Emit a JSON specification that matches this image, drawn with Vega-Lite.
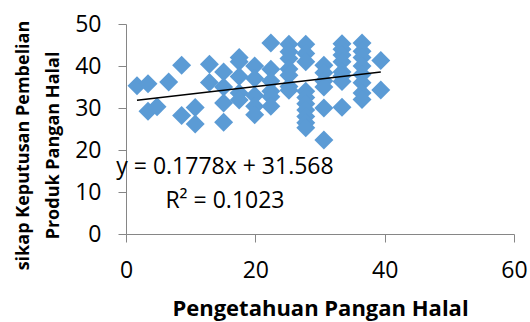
{
  "$schema": "https://vega.github.io/schema/vega-lite/v6.json",
  "width": 388,
  "height": 210,
  "autosize": {"type": "none"},
  "padding": {"left": 126, "top": 24, "right": 16, "bottom": 88},
  "background": "white",
  "config": {
    "view": {"stroke": null},
    "font": "Open Sans",
    "axis": {
      "grid": false,
      "domainColor": "#868686",
      "tickColor": "#868686",
      "tickSize": 8,
      "labelFlush": false,
      "labelFont": "Open Sans",
      "labelFontSize": 23,
      "labelColor": "#000000",
      "titleFont": "Open Sans",
      "titleColor": "#000000",
      "titleFontWeight": "bold"
    }
  },
  "datasets": {
    "pts": [
      {"x": 1.7, "y": 35.3},
      {"x": 3.4, "y": 35.8}, {"x": 3.4, "y": 29.2},
      {"x": 4.8, "y": 30.3},
      {"x": 6.6, "y": 36.2},
      {"x": 8.6, "y": 40.2}, {"x": 8.6, "y": 28.2},
      {"x": 10.7, "y": 30.1}, {"x": 10.7, "y": 26.2},
      {"x": 12.9, "y": 40.4}, {"x": 12.9, "y": 36.1},
      {"x": 15.1, "y": 38.6}, {"x": 15.1, "y": 35.0}, {"x": 15.1, "y": 31.2}, {"x": 15.1, "y": 26.6},
      {"x": 17.5, "y": 42.0}, {"x": 17.5, "y": 41.0}, {"x": 17.5, "y": 37.5}, {"x": 17.5, "y": 33.6}, {"x": 17.5, "y": 31.9},
      {"x": 19.9, "y": 40.0}, {"x": 19.9, "y": 37.0}, {"x": 19.9, "y": 33.0}, {"x": 19.9, "y": 30.4}, {"x": 19.9, "y": 28.4},
      {"x": 22.4, "y": 45.5}, {"x": 22.4, "y": 39.2}, {"x": 22.4, "y": 36.4}, {"x": 22.4, "y": 34.0}, {"x": 22.4, "y": 32.7}, {"x": 22.4, "y": 30.4},
      {"x": 25.2, "y": 45.2}, {"x": 25.2, "y": 43.4}, {"x": 25.2, "y": 41.8}, {"x": 25.2, "y": 39.3}, {"x": 25.2, "y": 37.8}, {"x": 25.2, "y": 35.1}, {"x": 25.2, "y": 34.2},
      {"x": 27.8, "y": 45.2}, {"x": 27.8, "y": 43.0}, {"x": 27.8, "y": 41.0}, {"x": 27.8, "y": 34.0}, {"x": 27.8, "y": 32.5}, {"x": 27.8, "y": 31.0}, {"x": 27.8, "y": 29.5}, {"x": 27.8, "y": 28.0}, {"x": 27.8, "y": 26.5}, {"x": 27.8, "y": 25.3},
      {"x": 30.6, "y": 40.2}, {"x": 30.6, "y": 38.4}, {"x": 30.6, "y": 36.4}, {"x": 30.6, "y": 35.0}, {"x": 30.6, "y": 30.0}, {"x": 30.6, "y": 22.4},
      {"x": 33.4, "y": 45.3}, {"x": 33.4, "y": 44.0}, {"x": 33.4, "y": 42.6}, {"x": 33.4, "y": 41.0}, {"x": 33.4, "y": 38.6}, {"x": 33.4, "y": 37.6}, {"x": 33.4, "y": 36.3}, {"x": 33.4, "y": 30.2},
      {"x": 36.5, "y": 45.5}, {"x": 36.5, "y": 43.5}, {"x": 36.5, "y": 42.0}, {"x": 36.5, "y": 40.0}, {"x": 36.5, "y": 38.0}, {"x": 36.5, "y": 36.0}, {"x": 36.5, "y": 33.6}, {"x": 36.5, "y": 32.0},
      {"x": 39.4, "y": 41.3}, {"x": 39.4, "y": 34.3}
    ],
    "trend": [
      {"x": 1.7, "y": 31.87},
      {"x": 39.4, "y": 38.57}
    ],
    "notes": [
      {"x": 15.3, "y": 14.25, "label": "y = 0.1778x + 31.568"},
      {"x": 15.3, "y": 6.2, "label": "R² = 0.1023"}
    ]
  },
  "layer": [
    {
      "data": {"name": "pts"},
      "mark": {"type": "point", "shape": "diamond", "filled": true, "size": 360, "color": "#5B9BD5", "opacity": 1},
      "encoding": {
        "x": {
          "field": "x", "type": "quantitative",
          "scale": {"domain": [0, 60], "nice": false, "zero": false},
          "axis": {
            "values": [0, 20, 40, 60],
            "labelPadding": 17,
            "title": "Pengetahuan Pangan Halal",
            "titleFontSize": 22,
            "titleBaseline": "alphabetic",
            "titleY": 81
          }
        },
        "y": {
          "field": "y", "type": "quantitative",
          "scale": {"domain": [0, 50], "nice": false},
          "axis": {
            "values": [0, 10, 20, 30, 40, 50],
            "labelPadding": 17,
            "title": ["sikap Keputusan Pembelian", "Produk Pangan Halal"],
            "titleFontSize": 18,
            "titleLineHeight": 30,
            "titleAngle": -90,
            "titleAlign": "center",
            "titleBaseline": "middle",
            "titleX": -103,
            "titleY": 121
          }
        }
      }
    },
    {
      "data": {"name": "trend"},
      "mark": {"type": "line", "color": "#000000", "strokeWidth": 1.5},
      "encoding": {
        "x": {"field": "x", "type": "quantitative"},
        "y": {"field": "y", "type": "quantitative"}
      }
    },
    {
      "data": {"name": "notes"},
      "mark": {"type": "text", "font": "Open Sans", "fontSize": 23, "color": "#000000", "align": "center", "baseline": "alphabetic"},
      "encoding": {
        "x": {"field": "x", "type": "quantitative"},
        "y": {"field": "y", "type": "quantitative"},
        "text": {"field": "label"}
      }
    }
  ]
}
